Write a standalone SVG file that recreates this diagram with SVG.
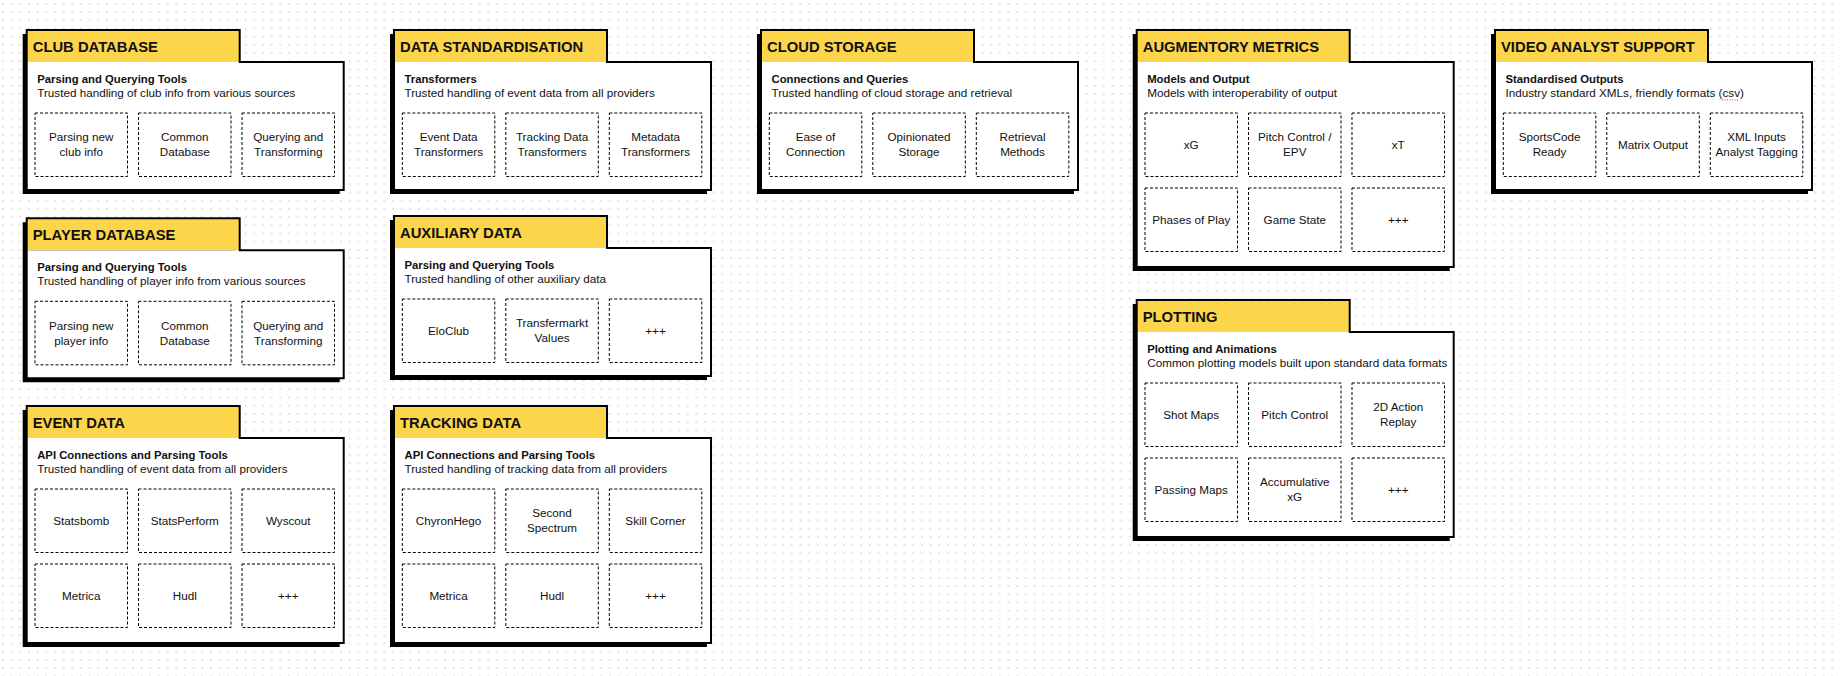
<svg xmlns="http://www.w3.org/2000/svg" width="1840" height="676" viewBox="0 0 1840 676">
<defs>
<pattern id="dots" x="2" y="3" width="8.67" height="8.2" patternUnits="userSpaceOnUse"><rect x="0" y="0" width="1.6" height="1.6" fill="#d8d8df"/></pattern>
<path id="shape1" d="M0,32 V0 H213 V32 H317 V160 H0 Z"/>
<path id="shape2" d="M0,32 V0 H213 V32 H317 V237 H0 Z"/>
</defs>
<style>
.shadow{fill:#000}
.tab{fill:#FDD54B}
.body{fill:#fff}
.outline{fill:none;stroke:#000;stroke-width:2}
.title{font-family:"Liberation Sans",Arial,Helvetica,sans-serif;font-weight:bold;font-size:14.8px;fill:#111}
.sub{font-family:"Liberation Sans",Arial,Helvetica,sans-serif;font-weight:bold;font-size:11.3px;fill:#111}
.desc{font-family:"Liberation Sans",Arial,Helvetica,sans-serif;font-size:11.7px;fill:#111}
.cell{fill:#fff;stroke:#000;stroke-width:1;stroke-dasharray:3 2}
.lbl{font-family:"Liberation Sans",Arial,Helvetica,sans-serif;font-size:11.7px;fill:#111;text-anchor:middle}
</style>
<rect width="1840" height="676" fill="#fff"/>
<rect width="1840" height="676" fill="url(#dots)"/>

<g id="club-database" transform="translate(26.7,30)">
<use href="#shape1" class="shadow" transform="translate(-4,4)"/>
<rect class="tab" x="0" y="0" width="213" height="32"/>
<rect class="body" x="0" y="32" width="317" height="128"/>
<use href="#shape1" class="outline"/>
<text class="title" x="6" y="22">CLUB DATABASE</text>
<text class="sub" x="10.5" y="53">Parsing and Querying Tools</text>
<text class="desc" x="10.5" y="67">Trusted handling of club info from various sources</text>
<rect class="cell" x="8.3" y="83" width="92.5" height="63.5"/>
<rect class="cell" x="111.8" y="83" width="92.5" height="63.5"/>
<rect class="cell" x="215.3" y="83" width="92.5" height="63.5"/>
<text class="lbl" x="54.55" y="111.25">Parsing new</text><text class="lbl" x="54.55" y="126.25">club info</text>
<text class="lbl" x="158.05" y="111.25">Common</text><text class="lbl" x="158.05" y="126.25">Database</text>
<text class="lbl" x="261.55" y="111.25">Querying and</text><text class="lbl" x="261.55" y="126.25">Transforming</text>
</g>

<g id="player-database" transform="translate(26.7,218.3)">
<use href="#shape1" class="shadow" transform="translate(-4,4)"/>
<rect class="tab" x="0" y="0" width="213" height="32"/>
<rect class="body" x="0" y="32" width="317" height="128"/>
<use href="#shape1" class="outline"/>
<text class="title" x="6" y="22">PLAYER DATABASE</text>
<text class="sub" x="10.5" y="53">Parsing and Querying Tools</text>
<text class="desc" x="10.5" y="67">Trusted handling of player info from various sources</text>
<rect class="cell" x="8.3" y="83" width="92.5" height="63.5"/>
<rect class="cell" x="111.8" y="83" width="92.5" height="63.5"/>
<rect class="cell" x="215.3" y="83" width="92.5" height="63.5"/>
<text class="lbl" x="54.55" y="111.25">Parsing new</text><text class="lbl" x="54.55" y="126.25">player info</text>
<text class="lbl" x="158.05" y="111.25">Common</text><text class="lbl" x="158.05" y="126.25">Database</text>
<text class="lbl" x="261.55" y="111.25">Querying and</text><text class="lbl" x="261.55" y="126.25">Transforming</text>
</g>

<g id="event-data" transform="translate(26.7,406)">
<use href="#shape2" class="shadow" transform="translate(-4,4)"/>
<rect class="tab" x="0" y="0" width="213" height="32"/>
<rect class="body" x="0" y="32" width="317" height="205"/>
<use href="#shape2" class="outline"/>
<text class="title" x="6" y="22">EVENT DATA</text>
<text class="sub" x="10.5" y="53">API Connections and Parsing Tools</text>
<text class="desc" x="10.5" y="67">Trusted handling of event data from all providers</text>
<rect class="cell" x="8.3" y="83" width="92.5" height="63.5"/>
<rect class="cell" x="111.8" y="83" width="92.5" height="63.5"/>
<rect class="cell" x="215.3" y="83" width="92.5" height="63.5"/>
<rect class="cell" x="8.3" y="158" width="92.5" height="63.5"/>
<rect class="cell" x="111.8" y="158" width="92.5" height="63.5"/>
<rect class="cell" x="215.3" y="158" width="92.5" height="63.5"/>
<text class="lbl" x="54.55" y="119.25">Statsbomb</text>
<text class="lbl" x="158.05" y="119.25">StatsPerform</text>
<text class="lbl" x="261.55" y="119.25">Wyscout</text>
<text class="lbl" x="54.55" y="194.25">Metrica</text>
<text class="lbl" x="158.05" y="194.25">Hudl</text>
<text class="lbl" x="261.55" y="194.25">+++</text>
</g>

<g id="data-standardisation" transform="translate(394,30)">
<use href="#shape1" class="shadow" transform="translate(-4,4)"/>
<rect class="tab" x="0" y="0" width="213" height="32"/>
<rect class="body" x="0" y="32" width="317" height="128"/>
<use href="#shape1" class="outline"/>
<text class="title" x="6" y="22">DATA STANDARDISATION</text>
<text class="sub" x="10.5" y="53">Transformers</text>
<text class="desc" x="10.5" y="67">Trusted handling of event data from all providers</text>
<rect class="cell" x="8.3" y="83" width="92.5" height="63.5"/>
<rect class="cell" x="111.8" y="83" width="92.5" height="63.5"/>
<rect class="cell" x="215.3" y="83" width="92.5" height="63.5"/>
<text class="lbl" x="54.55" y="111.25">Event Data</text><text class="lbl" x="54.55" y="126.25">Transformers</text>
<text class="lbl" x="158.05" y="111.25">Tracking Data</text><text class="lbl" x="158.05" y="126.25">Transformers</text>
<text class="lbl" x="261.55" y="111.25">Metadata</text><text class="lbl" x="261.55" y="126.25">Transformers</text>
</g>

<g id="auxiliary-data" transform="translate(394,216)">
<use href="#shape1" class="shadow" transform="translate(-4,4)"/>
<rect class="tab" x="0" y="0" width="213" height="32"/>
<rect class="body" x="0" y="32" width="317" height="128"/>
<use href="#shape1" class="outline"/>
<text class="title" x="6" y="22">AUXILIARY DATA</text>
<text class="sub" x="10.5" y="53">Parsing and Querying Tools</text>
<text class="desc" x="10.5" y="67">Trusted handling of other auxiliary data</text>
<rect class="cell" x="8.3" y="83" width="92.5" height="63.5"/>
<rect class="cell" x="111.8" y="83" width="92.5" height="63.5"/>
<rect class="cell" x="215.3" y="83" width="92.5" height="63.5"/>
<text class="lbl" x="54.55" y="119.25">EloClub</text>
<text class="lbl" x="158.05" y="111.25">Transfermarkt</text><text class="lbl" x="158.05" y="126.25">Values</text>
<text class="lbl" x="261.55" y="119.25">+++</text>
</g>

<g id="tracking-data" transform="translate(394,406)">
<use href="#shape2" class="shadow" transform="translate(-4,4)"/>
<rect class="tab" x="0" y="0" width="213" height="32"/>
<rect class="body" x="0" y="32" width="317" height="205"/>
<use href="#shape2" class="outline"/>
<text class="title" x="6" y="22">TRACKING DATA</text>
<text class="sub" x="10.5" y="53">API Connections and Parsing Tools</text>
<text class="desc" x="10.5" y="67">Trusted handling of tracking data from all providers</text>
<rect class="cell" x="8.3" y="83" width="92.5" height="63.5"/>
<rect class="cell" x="111.8" y="83" width="92.5" height="63.5"/>
<rect class="cell" x="215.3" y="83" width="92.5" height="63.5"/>
<rect class="cell" x="8.3" y="158" width="92.5" height="63.5"/>
<rect class="cell" x="111.8" y="158" width="92.5" height="63.5"/>
<rect class="cell" x="215.3" y="158" width="92.5" height="63.5"/>
<text class="lbl" x="54.55" y="119.25">ChyronHego</text>
<text class="lbl" x="158.05" y="111.25">Second</text><text class="lbl" x="158.05" y="126.25">Spectrum</text>
<text class="lbl" x="261.55" y="119.25">Skill Corner</text>
<text class="lbl" x="54.55" y="194.25">Metrica</text>
<text class="lbl" x="158.05" y="194.25">Hudl</text>
<text class="lbl" x="261.55" y="194.25">+++</text>
</g>

<g id="cloud-storage" transform="translate(761,30)">
<use href="#shape1" class="shadow" transform="translate(-4,4)"/>
<rect class="tab" x="0" y="0" width="213" height="32"/>
<rect class="body" x="0" y="32" width="317" height="128"/>
<use href="#shape1" class="outline"/>
<text class="title" x="6" y="22">CLOUD STORAGE</text>
<text class="sub" x="10.5" y="53">Connections and Queries</text>
<text class="desc" x="10.5" y="67">Trusted handling of cloud storage and retrieval</text>
<rect class="cell" x="8.3" y="83" width="92.5" height="63.5"/>
<rect class="cell" x="111.8" y="83" width="92.5" height="63.5"/>
<rect class="cell" x="215.3" y="83" width="92.5" height="63.5"/>
<text class="lbl" x="54.55" y="111.25">Ease of</text><text class="lbl" x="54.55" y="126.25">Connection</text>
<text class="lbl" x="158.05" y="111.25">Opinionated</text><text class="lbl" x="158.05" y="126.25">Storage</text>
<text class="lbl" x="261.55" y="111.25">Retrieval</text><text class="lbl" x="261.55" y="126.25">Methods</text>
</g>

<g id="augmentory-metrics" transform="translate(1136.7,30)">
<use href="#shape2" class="shadow" transform="translate(-4,4)"/>
<rect class="tab" x="0" y="0" width="213" height="32"/>
<rect class="body" x="0" y="32" width="317" height="205"/>
<use href="#shape2" class="outline"/>
<text class="title" x="6" y="22">AUGMENTORY METRICS</text>
<text class="sub" x="10.5" y="53">Models and Output</text>
<text class="desc" x="10.5" y="67">Models with interoperability of output</text>
<rect class="cell" x="8.3" y="83" width="92.5" height="63.5"/>
<rect class="cell" x="111.8" y="83" width="92.5" height="63.5"/>
<rect class="cell" x="215.3" y="83" width="92.5" height="63.5"/>
<rect class="cell" x="8.3" y="158" width="92.5" height="63.5"/>
<rect class="cell" x="111.8" y="158" width="92.5" height="63.5"/>
<rect class="cell" x="215.3" y="158" width="92.5" height="63.5"/>
<text class="lbl" x="54.55" y="119.25">xG</text>
<text class="lbl" x="158.05" y="111.25">Pitch Control /</text><text class="lbl" x="158.05" y="126.25">EPV</text>
<text class="lbl" x="261.55" y="119.25">xT</text>
<text class="lbl" x="54.55" y="194.25">Phases of Play</text>
<text class="lbl" x="158.05" y="194.25">Game State</text>
<text class="lbl" x="261.55" y="194.25">+++</text>
</g>

<g id="plotting" transform="translate(1136.7,300)">
<use href="#shape2" class="shadow" transform="translate(-4,4)"/>
<rect class="tab" x="0" y="0" width="213" height="32"/>
<rect class="body" x="0" y="32" width="317" height="205"/>
<use href="#shape2" class="outline"/>
<text class="title" x="6" y="22">PLOTTING</text>
<text class="sub" x="10.5" y="53">Plotting and Animations</text>
<text class="desc" x="10.5" y="67">Common plotting models built upon standard data formats</text>
<rect class="cell" x="8.3" y="83" width="92.5" height="63.5"/>
<rect class="cell" x="111.8" y="83" width="92.5" height="63.5"/>
<rect class="cell" x="215.3" y="83" width="92.5" height="63.5"/>
<rect class="cell" x="8.3" y="158" width="92.5" height="63.5"/>
<rect class="cell" x="111.8" y="158" width="92.5" height="63.5"/>
<rect class="cell" x="215.3" y="158" width="92.5" height="63.5"/>
<text class="lbl" x="54.55" y="119.25">Shot Maps</text>
<text class="lbl" x="158.05" y="119.25">Pitch Control</text>
<text class="lbl" x="261.55" y="111.25">2D Action</text><text class="lbl" x="261.55" y="126.25">Replay</text>
<text class="lbl" x="54.55" y="194.25">Passing Maps</text>
<text class="lbl" x="158.05" y="186.25">Accumulative</text><text class="lbl" x="158.05" y="201.25">xG</text>
<text class="lbl" x="261.55" y="194.25">+++</text>
</g>

<g id="video-analyst-support" transform="translate(1495,30)">
<use href="#shape1" class="shadow" transform="translate(-4,4)"/>
<rect class="tab" x="0" y="0" width="213" height="32"/>
<rect class="body" x="0" y="32" width="317" height="128"/>
<use href="#shape1" class="outline"/>
<text class="title" x="6" y="22">VIDEO ANALYST SUPPORT</text>
<text class="sub" x="10.5" y="53">Standardised Outputs</text>
<text class="desc" x="10.5" y="67">Industry standard XMLs, friendly formats (csv)</text>
<line x1="224.5" y1="70" x2="243.5" y2="70" stroke="#e0453a" stroke-width="1" stroke-dasharray="1 1.5"/>
<rect class="cell" x="8.3" y="83" width="92.5" height="63.5"/>
<rect class="cell" x="111.8" y="83" width="92.5" height="63.5"/>
<rect class="cell" x="215.3" y="83" width="92.5" height="63.5"/>
<text class="lbl" x="54.55" y="111.25">SportsCode</text><text class="lbl" x="54.55" y="126.25">Ready</text>
<text class="lbl" x="158.05" y="119.25">Matrix Output</text>
<text class="lbl" x="261.55" y="111.25">XML Inputs</text><text class="lbl" x="261.55" y="126.25">Analyst Tagging</text>
</g>

<g id="connectors"></g>
</svg>
